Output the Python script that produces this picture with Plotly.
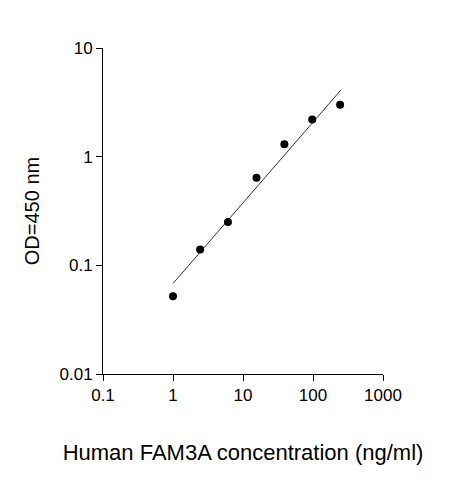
import plotly.graph_objects as go

conc = [1, 2.44, 6.1, 15.6, 39, 97.6, 244]
od = [0.052, 0.14, 0.25, 0.64, 1.3, 2.2, 3.0]
fit_x = [1, 250]
fit_y = [0.068, 4.1]

fig = go.Figure()
fig.add_trace(go.Scatter(x=fit_x, y=fit_y, mode="lines", line=dict(color="black", width=0.8), showlegend=False))
fig.add_trace(go.Scatter(x=conc, y=od, mode="markers", marker=dict(color="black", size=8), showlegend=False))

axis_common = dict(type="log", showgrid=False, zeroline=False, showline=True, linecolor="black", linewidth=1,
                   ticks="outside", ticklen=6, tickcolor="black", tickfont=dict(size=17, color="black"))
fig.update_layout(
    width=463, height=480, plot_bgcolor="white", paper_bgcolor="white",
    font=dict(family="Liberation Sans, Arial", color="black"),
    margin=dict(l=95, r=88, t=40, b=114),
    xaxis=dict(**axis_common, range=[-1, 3], tickvals=[0.1, 1, 10, 100, 1000], ticktext=["0.1", "1", "10", "100", "1000"],
               title=dict(text="Human FAM3A concentration (ng/ml)", font=dict(size=22), standoff=40)),
    yaxis=dict(**axis_common, range=[-2, 1], tickvals=[0.01, 0.1, 1, 10], ticktext=["0.01", "0.1", "1", "10"],
               title=dict(text="OD=450 nm", font=dict(size=20), standoff=14)),
)
fig.write_html("out.html")
